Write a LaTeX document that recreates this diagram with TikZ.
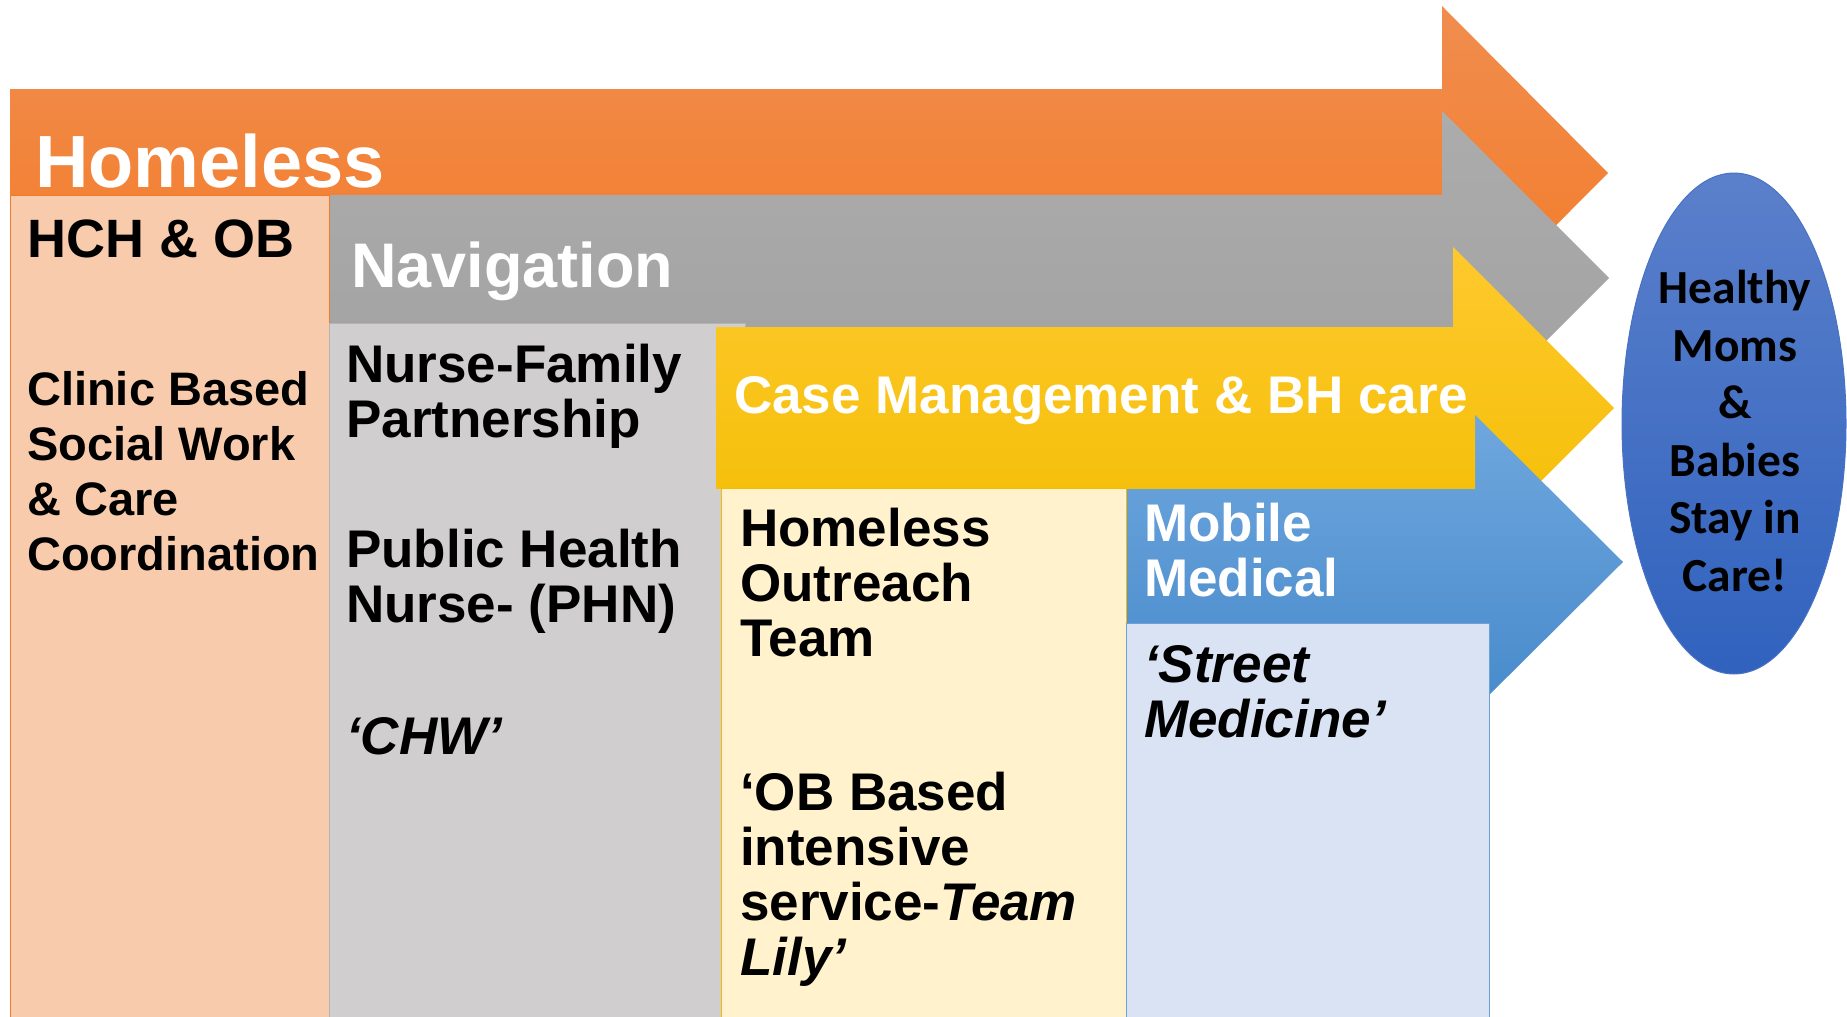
\documentclass[tikz,border=0pt]{standalone}
\usepackage{fontspec}
\setmainfont{Liberation Sans}
\newfontfamily\calibfont{Carlito}
\usetikzlibrary{shapes.geometric}

\definecolor{orgTop}{HTML}{F08D4F}
\definecolor{orgBot}{HTML}{F47A24}
\definecolor{gryTop}{HTML}{ACACAC}
\definecolor{gryBot}{HTML}{A0A0A0}
\definecolor{yelTop}{HTML}{FFC92E}
\definecolor{yelBot}{HTML}{F2BD00}
\definecolor{bluTop}{HTML}{6FA7DE}
\definecolor{bluBot}{HTML}{478ACB}
\definecolor{peach}{HTML}{F8CBAD}
\definecolor{lgray}{HTML}{D0CECE}
\definecolor{lyellow}{HTML}{FFF2CC}
\definecolor{lblue}{HTML}{DAE3F3}
\definecolor{ellTop}{HTML}{5B80CB}
\definecolor{ellBot}{HTML}{3062BE}
\definecolor{ellLine}{HTML}{4A72C4}

\begin{document}
\begin{tikzpicture}[x=1pt,y=-1pt,
    lbl/.style={anchor=base west, inner sep=0pt, align=left, font={\bfseries\fontsize{53}{55}\selectfont}},
    whitelbl/.style={lbl, text=white},
    colbox/.style={line width=1pt}]
  \useasboundingbox (0,0) rectangle (1847,1017);
  \clip (0,0) rectangle (1847,1017);

  % arrows, back to front
  \shade[top color=orgTop, bottom color=orgBot] (10,89) -- (1442,89) -- (1442,6) -- (1608,173) -- (1442,340) -- (1442,257) -- (10,257) -- cycle;
  \shade[top color=gryTop, bottom color=gryBot] (329,195) -- (1442,195) -- (1442,111) -- (1609,278) -- (1442,445) -- (1442,361) -- (329,361) -- cycle;
  \shade[top color=yelTop, bottom color=yelBot] (716,327) -- (1453,327) -- (1453,247) -- (1614,408) -- (1453,569) -- (1453,489) -- (716,489) -- cycle;
  \shade[top color=bluTop, bottom color=bluBot] (1126,488) -- (1475,488) -- (1475,415) -- (1623,562) -- (1475,709) -- (1475,636) -- (1126,636) -- cycle;

  % columns
  \draw[colbox, draw=orgBot, fill=peach] (10,195) rectangle (329,1030);
  \draw[colbox, draw=gryBot!80, fill=lgray] (329,323) rectangle (745,1030);
  \shade[top color=yelTop!75!yelBot, bottom color=yelTop!25!yelBot] (716,327) rectangle (1475,488);
  \draw[colbox, draw=yelBot, fill=lyellow] (721,488) rectangle (1126,1030);
  \draw[colbox, draw=bluBot!80, fill=lblue] (1126,623) rectangle (1489,1030);

  % track titles (multi-line nodes sit on their last baseline)
  \node[whitelbl, font={\bfseries\fontsize{74}{80}\selectfont}] (homeless) at (35,187) {Homeless};
  \node[whitelbl, font={\bfseries\fontsize{63}{70}\selectfont}] (navigation) at (351,287) {Navigation};
  \node[whitelbl] (casemgmt) at (734,413) {Case Management \& BH care};
  \node[whitelbl] (mobile) at (1144,596) {Mobile\\Medical};

  % column texts
  \node[lbl, font={\bfseries\fontsize{54}{55}\selectfont}] (hch) at (27,257) {HCH \& OB};
  \node[lbl, font={\bfseries\fontsize{47}{55}\selectfont}] (clinic) at (27,570) {Clinic Based\\Social Work\\\& Care\\Coordination};
  \node[lbl] (nfp) at (346,437) {Nurse-Family\\Partnership};
  \node[lbl] (phn) at (346,622) {Public Health\\Nurse- (PHN)};
  \node[lbl] (chw) at (346,754) {\itshape ‘CHW’};
  \node[lbl] (outreach) at (740,656) {Homeless\\Outreach\\Team};
  \node[lbl] (teamlily) at (740,975) {‘OB Based\\intensive\\service-\textit{Team}\\\textit{Lily’}};
  \node[lbl] (street) at (1144,737) {\itshape ‘Street\\\itshape Medicine’};

  % outcome
  \node[ellipse, minimum width=224pt, minimum height=501pt, inner sep=0pt, draw=ellLine, line width=1pt, top color=ellTop, bottom color=ellBot] (goal) at (1734,423.5) {};
  \node[align=center, inner sep=0pt, font={\calibfont\bfseries\fontsize{47.5}{57.5}\selectfont}] (goaltext) at (1735,431) {Healthy\\Moms\\\&\\Babies\\Stay in\\Care!};
\end{tikzpicture}
\end{document}
